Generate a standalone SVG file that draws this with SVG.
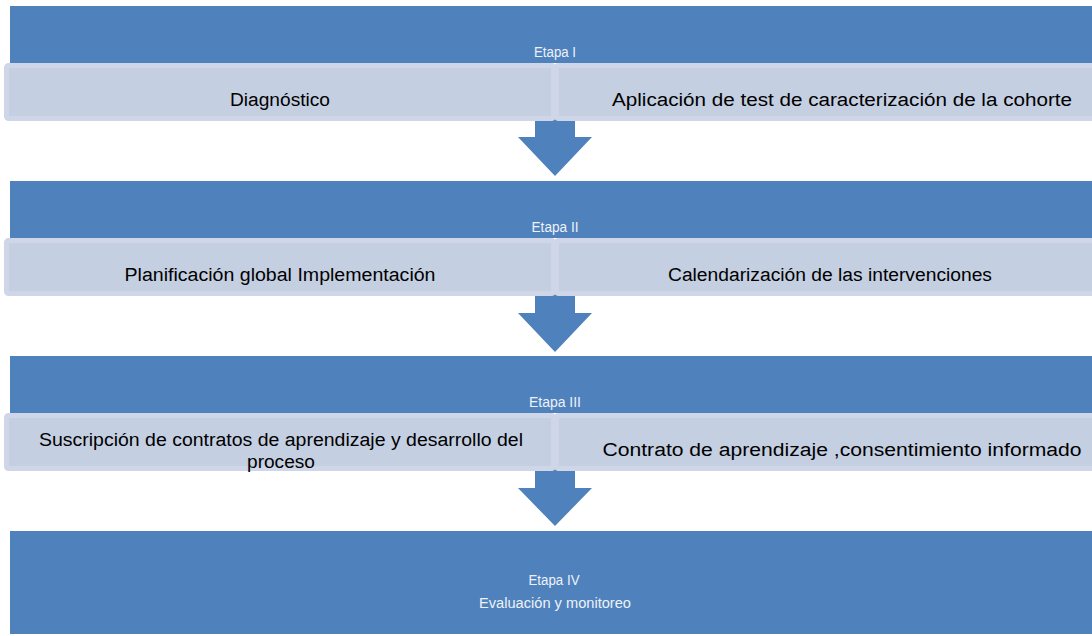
<svg xmlns="http://www.w3.org/2000/svg" width="1092" height="636" viewBox="0 0 1092 636">
<style>
.band{fill:#4F81BD}
.box{fill:#C4CFE2;stroke:#CED6E7;stroke-width:5}
.arrow{fill:#4F81BD}
.lbl{font-family:"Liberation Sans",Arial,sans-serif;font-size:14px;fill:#EEF2F8;text-anchor:middle}
.txt{font-family:"Liberation Sans",Arial,sans-serif;font-size:18px;fill:#000000;text-anchor:middle}
</style>
<rect width="1092" height="636" fill="#FFFFFF"/>
<g id="connectors">
<polygon class="arrow" points="535,119 575,119 575,137 592,137 555,176 518,137 535,137"/>
<polygon class="arrow" points="535,294 575,294 575,313 592,313 555,352 518,313 535,313"/>
<polygon class="arrow" points="535,468 575,468 575,488 592,488 555,526 518,488 535,488"/>
</g>
<g id="etapa1">
<rect class="band" x="10" y="6" width="1090" height="57"/>
<text class="lbl" x="555" y="57" textLength="42" lengthAdjust="spacingAndGlyphs">Etapa I</text>
</g>
<g id="diagnostico">
<rect class="box" x="6.5" y="65.5" width="547" height="53" rx="2"/>
<text class="txt" x="280" y="106" textLength="100" lengthAdjust="spacingAndGlyphs">Diagnóstico</text>
</g>
<g id="aplicacion">
<rect class="box" x="556.5" y="65.5" width="560" height="53" rx="2"/>
<text class="txt" x="842" y="106" textLength="460" lengthAdjust="spacingAndGlyphs">Aplicación de test de caracterización de la cohorte</text>
</g>
<g id="etapa2">
<rect class="band" x="10" y="181" width="1090" height="57"/>
<text class="lbl" x="555" y="232" textLength="47" lengthAdjust="spacingAndGlyphs">Etapa II</text>
</g>
<g id="planificacion">
<rect class="box" x="6.5" y="240.5" width="547" height="53" rx="2"/>
<text class="txt" x="280" y="281" textLength="311" lengthAdjust="spacingAndGlyphs">Planificación global Implementación</text>
</g>
<g id="calendarizacion">
<rect class="box" x="556.5" y="240.5" width="560" height="53" rx="2"/>
<text class="txt" x="830" y="281" textLength="324" lengthAdjust="spacingAndGlyphs">Calendarización de las intervenciones</text>
</g>
<g id="etapa3">
<rect class="band" x="10" y="356" width="1090" height="57"/>
<text class="lbl" x="555" y="407" textLength="52" lengthAdjust="spacingAndGlyphs">Etapa III</text>
</g>
<g id="suscripcion">
<rect class="box" x="6.5" y="415.5" width="547" height="53" rx="2"/>
<text class="txt" x="281" y="446" textLength="484" lengthAdjust="spacingAndGlyphs">Suscripción de contratos de aprendizaje y desarrollo del</text>
<text class="txt" x="281" y="468" textLength="68" lengthAdjust="spacingAndGlyphs">proceso</text>
</g>
<g id="contrato">
<rect class="box" x="556.5" y="415.5" width="560" height="53" rx="2"/>
<text class="txt" x="842" y="456" textLength="479" lengthAdjust="spacingAndGlyphs">Contrato de aprendizaje ,consentimiento informado</text>
</g>
<g id="etapa4">
<rect class="band" x="10" y="531" width="1090" height="103"/>
<text class="lbl" x="554" y="585" textLength="51" lengthAdjust="spacingAndGlyphs">Etapa IV</text>
<text class="lbl" x="555" y="608" textLength="152" lengthAdjust="spacingAndGlyphs">Evaluación y monitoreo</text>
</g>
</svg>
